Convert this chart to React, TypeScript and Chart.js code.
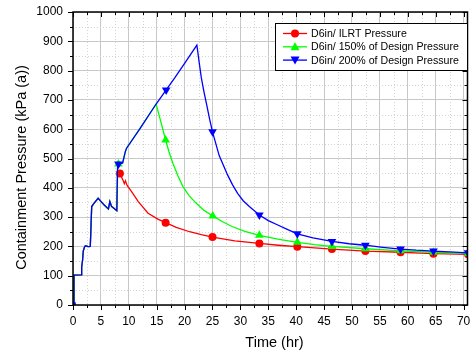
import React, { useEffect, useRef } from "react";
import { Chart, registerables } from "chart.js";
Chart.register(...registerables);

// ---- data ----
const SERIES_LABELS = ["D6in/ ILRT Pressure", "D6in/ 150% of Design Pressure", "D6in/ 200% of Design Pressure"];
const SERIES_COLORS = ["#ff0000", "#00ff00", "#0000ff"];

// shared start of every curve (hr, kPa(a))
const commonT = [0.18, 0.18, 1.45, 1.55, 1.7, 1.85, 2.1, 2.3, 2.7, 3.1, 3.35, 3.75, 4.5, 5.6, 6.35, 6.6, 6.9, 7.85];
const commonP = [3, 102, 103, 129, 150, 185, 200, 202, 199, 200, 336, 347, 364, 341, 328, 353, 337, 322];

// ILRT tail
const redT = [8.0, 8.4, 9.0, 9.2, 9.4, 9.7, 10.5, 11.7, 13.45, 15.2, 16.6, 18.5, 20.9, 23, 25, 29, 33.4, 36.8, 40.2, 46.4, 52.4, 58.7, 64.6, 70.8, 71.5];
const redP = [458, 449, 424, 414, 424, 408, 387, 353, 313, 293, 281, 265, 250, 240, 232, 219, 210, 204, 199, 191, 184, 180, 175, 173, 172];
const redMarkers = [8.4, 16.6, 25, 33.4, 40.2, 46.4, 52.4, 58.7, 64.6, 70.8];

// shared by 150% and 200%
const riseT = [8.0, 8.15, 8.9, 9.4, 9.6, 12, 14.9];
const riseP = [480, 481, 485, 525, 535, 602, 686];

// 150% tail
const greenT = [15.6, 16.6, 17.2, 17.9, 18.8, 19.7, 20.8, 22.1, 23.5, 25.05, 26.8, 28.6, 30.8, 33.4, 36.7, 40.2, 43.3, 46.4, 52.4, 58.7, 64.6, 70.8, 71.5];
const greenP = [635, 563, 523, 484, 441, 404, 373, 347, 323, 304, 284, 267, 251, 238, 225, 214, 206, 200, 192, 185, 180, 176, 175];
const greenMarkers = [8.15, 16.6, 25.05, 33.4, 40.2, 46.4, 52.4, 58.7, 64.6, 70.8];

// 200% tail
const blueT = [16.7, 18.2, 20, 22.2, 22.6, 23.0, 23.5, 24.0, 24.5, 25.0, 26.2, 27.7, 28.6, 29.5, 30.5, 31.6, 33.4, 35, 36.7, 38.5, 40.2, 43, 46.4, 49.5, 52.4, 55.5, 58.7, 61.5, 64.6, 67.5, 70.8, 71.5];
const blueP = [734, 774, 825, 887, 830, 775, 725, 680, 633, 591, 510, 444, 410, 381, 356, 336, 307, 288, 273, 257, 243, 229, 217, 209, 204, 197, 191, 187, 184, 181, 178, 177];
const blueMarkers = [0.18, 8.15, 16.7, 25.0, 33.4, 40.2, 46.4, 52.4, 58.7, 64.6, 70.8];

const X_MIN = 0, X_MAX = 70.7, X_STEP = 5;
const Y_MIN = 0, Y_MAX = 1000, Y_STEP = 100;
const X_TITLE = "Time (hr)";
const Y_TITLE = "Containment Pressure (kPa (a))";

const FONT = "'Liberation Sans', Arial, sans-serif";

function pts(ts: number[][], ps: number[][]) {
  const out: { x: number; y: number }[] = [];
  ts.forEach((t, k) => t.forEach((v, i) => out.push({ x: v, y: ps[k][i] })));
  return out;
}

const isMarker = (list: number[], x: number, idx: number, firstIdxRect: boolean) =>
  list.some((m) => Math.abs(m - x) < 1e-6) && !(firstIdxRect && idx === 1);

const framePlugin = {
  id: "frameDeco",
  beforeDatasetsDraw(chart: any) {
    const { ctx, chartArea: a, scales } = chart;
    const x = scales.x, y = scales.y;
    ctx.save();
    ctx.strokeStyle = "#d4d4d4";
    ctx.lineWidth = 1;
    ctx.setLineDash([1, 2]);
    x.ticks.forEach((t: any) => {
      const v = t.value + X_STEP / 2;
      if (v >= X_MAX) return;
      const px = Math.round(x.getPixelForValue(v)) + 0.5;
      ctx.beginPath(); ctx.moveTo(px, a.top); ctx.lineTo(px, a.bottom); ctx.stroke();
    });
    y.ticks.forEach((t: any) => {
      const v = t.value + Y_STEP / 2;
      if (v >= Y_MAX) return;
      const py = Math.round(y.getPixelForValue(v)) + 0.5;
      ctx.beginPath(); ctx.moveTo(a.left, py); ctx.lineTo(a.right, py); ctx.stroke();
    });
    ctx.restore();
  },
  afterDraw(chart: any) {
    const { ctx, chartArea: a, scales } = chart;
    const x = scales.x, y = scales.y;
    ctx.save();
    ctx.strokeStyle = "#000";
    ctx.lineWidth = 1.5;
    ctx.setLineDash([]);
    ctx.strokeRect(a.left, a.top, a.right - a.left, a.bottom - a.top);
    ctx.lineWidth = 1;
    const MAJ = 5, MIN = 3;
    x.ticks.forEach((t: any) => {
      [0, 0.5].forEach((f) => {
        const v = t.value + f * X_STEP;
        if (v > X_MAX) return;
        const len = f === 0 ? MAJ : MIN;
        const px = Math.round(x.getPixelForValue(v)) + 0.5;
        ctx.beginPath(); ctx.moveTo(px, a.bottom); ctx.lineTo(px, a.bottom + len); ctx.stroke();
        ctx.beginPath(); ctx.moveTo(px, a.top); ctx.lineTo(px, a.top + len); ctx.stroke();
      });
    });
    y.ticks.forEach((t: any) => {
      [0, 0.5].forEach((f) => {
        const v = t.value + f * Y_STEP;
        if (v > Y_MAX) return;
        const len = f === 0 ? MAJ : MIN;
        const py = Math.round(y.getPixelForValue(v)) + 0.5;
        ctx.beginPath(); ctx.moveTo(a.left, py); ctx.lineTo(a.left - len, py); ctx.stroke();
        ctx.beginPath(); ctx.moveTo(a.right, py); ctx.lineTo(a.right - len, py); ctx.stroke();
      });
    });
    // axis titles
    ctx.fillStyle = "#000";
    ctx.font = `14.5px ${FONT}`;
    ctx.textAlign = "center";
    ctx.textBaseline = "middle";
    ctx.fillText(X_TITLE, 274.5, 343);
    ctx.save();
    ctx.translate(22, 167.5);
    ctx.rotate(-Math.PI / 2);
    ctx.fillText(Y_TITLE, 0, 0);
    ctx.restore();
    // legend
    const bx = 275.5, by = 23.5, bw = 192, bh = 47;
    ctx.fillStyle = "#fff";
    ctx.fillRect(bx, by, bw, bh);
    ctx.strokeStyle = "#000";
    ctx.lineWidth = 1;
    ctx.strokeRect(bx, by, bw, bh);
    ctx.font = `10.6px ${FONT}`;
    ctx.textAlign = "left";
    chart.data.datasets.forEach((ds: any, i: number) => {
      const cy = 33.5 + i * 13.3;
      ctx.strokeStyle = ds.borderColor;
      ctx.lineWidth = 1.3;
      ctx.beginPath(); ctx.moveTo(283, cy); ctx.lineTo(307, cy); ctx.stroke();
      ctx.fillStyle = ds.backgroundColor;
      ctx.beginPath();
      if (ds.legendStyle === "circle") {
        ctx.arc(295, cy, 4, 0, Math.PI * 2);
      } else if (ds.legendStyle === "up") {
        ctx.moveTo(295, cy - 4.5); ctx.lineTo(299.5, cy + 3.5); ctx.lineTo(290.5, cy + 3.5); ctx.closePath();
      } else {
        ctx.moveTo(295, cy + 4.5); ctx.lineTo(299.5, cy - 3.5); ctx.lineTo(290.5, cy - 3.5); ctx.closePath();
      }
      ctx.fill();
      ctx.fillStyle = "#000";
      ctx.fillText(ds.label, 311, cy + 0.5);
    });
    ctx.restore();
  },
};

export default function App() {
  const ref = useRef<HTMLCanvasElement>(null);
  useEffect(() => {
    document.body.style.margin = "0";
    const redData = pts([commonT, redT], [commonP, redP]);
    const greenData = pts([commonT, riseT, greenT], [commonP, riseP, greenP]);
    const blueData = pts([commonT, riseT, blueT], [commonP, riseP, blueP]);
    const mk = (list: number[], r: number, rectFirst: boolean) => (c: any) => {
      const raw = c.raw;
      if (!raw) return 0;
      if (rectFirst && c.dataIndex === 0) return 2.5;
      return isMarker(list, raw.x, c.dataIndex, rectFirst) ? r : 0;
    };
    const common = { borderWidth: 1.3, pointBorderWidth: 0, tension: 0 };
    const chart = new Chart(ref.current!, {
      type: "line",
      data: {
        datasets: [
          {
            ...common, label: SERIES_LABELS[0], data: redData, borderColor: SERIES_COLORS[0], backgroundColor: SERIES_COLORS[0],
            pointRadius: mk(redMarkers, 4, false), pointStyle: "circle", order: 3, legendStyle: "circle",
          } as any,
          {
            ...common, label: SERIES_LABELS[1], data: greenData, borderColor: SERIES_COLORS[1], backgroundColor: SERIES_COLORS[1],
            pointRadius: mk(greenMarkers, 5, false), pointStyle: "triangle", order: 2, legendStyle: "up",
          } as any,
          {
            ...common, label: SERIES_LABELS[2], data: blueData, borderColor: SERIES_COLORS[2], backgroundColor: SERIES_COLORS[2],
            pointRadius: mk(blueMarkers, 5, true),
            pointStyle: (c: any) => (c.dataIndex === 0 ? "rect" : "triangle"),
            pointRotation: (c: any) => (c.dataIndex === 0 ? 0 : 180), order: 1, legendStyle: "down",
          } as any,
        ],
      },
      options: {
        responsive: false,
        animation: false,
        layout: { padding: { left: 0, top: 12, right: 1, bottom: 0 } },
        plugins: { legend: { display: false }, tooltip: { enabled: false } },
        elements: { point: { hoverRadius: 0 } },
        scales: {
          x: {
            type: "linear", min: X_MIN, max: X_MAX,
            ticks: { stepSize: X_STEP, includeBounds: false, padding: 9, color: "#000", font: { family: FONT, size: 12 }, maxRotation: 0,
              callback: (v: any) => String(v) },
            grid: { color: "#c8c8c8", lineWidth: 1, drawTicks: false },
            border: { display: false },
            afterFit: (s: any) => { s.height = 49; s.paddingLeft = 0; s.paddingRight = 0; },
          },
          y: {
            type: "linear", min: Y_MIN, max: Y_MAX,
            ticks: { stepSize: Y_STEP, padding: 10, color: "#000", font: { family: FONT, size: 12 },
              callback: (v: any) => String(v) },
            grid: { color: "#c8c8c8", lineWidth: 1, drawTicks: false },
            border: { display: false },
            afterFit: (s: any) => { s.width = 73; s.paddingTop = 0; s.paddingBottom = 0; },
          },
        },
      },
      plugins: [framePlugin],
    });
    return () => chart.destroy();
  }, []);
  return (
    <div style={{ position: "absolute", left: 0, top: 0, width: 470, height: 354 }}>
      <canvas ref={ref} width={470} height={354} style={{ display: "block" }} />
    </div>
  );
}
